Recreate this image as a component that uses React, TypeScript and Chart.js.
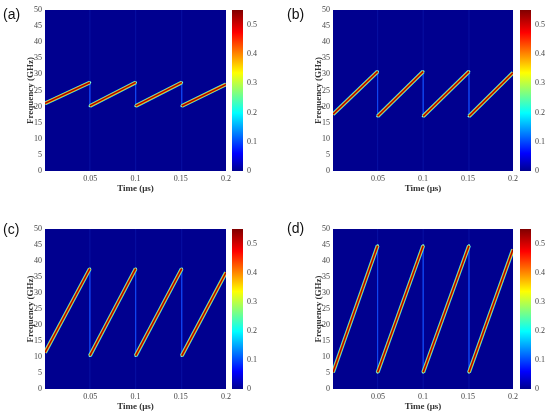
import React, { useEffect, useRef } from 'react';
import { Chart, registerables } from 'chart.js';

Chart.register(...registerables);

// chirp segments (time in μs), shared by all four panels
const segmentStartTimes = [0, 0.0496, 0.1002, 0.1511];
const segmentEndTimes = [0.0496, 0.1002, 0.1511, 0.2];

// start / end frequency of each segment (GHz), read per panel
const startFreqA = [21.0, 20.2, 20.2, 20.2];
const endFreqA = [27.5, 27.5, 27.5, 26.9];
const startFreqB = [17.6, 17.0, 17.0, 17.0];
const endFreqB = [30.9, 30.9, 30.9, 30.5];
const startFreqC = [11.4, 10.4, 10.4, 10.4];
const endFreqC = [37.6, 37.6, 37.6, 36.4];
const startFreqD = [5.2, 5.2, 5.2, 5.2];
const endFreqD = [44.8, 44.8, 44.8, 43.6];

const panelLabels = ['(a)', '(b)', '(c)', '(d)'];
const timeTicks = [0.05, 0.1, 0.15, 0.2];
const freqTicks = [0, 5, 10, 15, 20, 25, 30, 35, 40, 45, 50];
const colorbarTicks = [0, 0.1, 0.2, 0.3, 0.4, 0.5];
const colorbarMax = 0.55;

// jet colormap stops
const jetStops: [number, string][] = [
  [0, '#00008F'],
  [0.11, '#0000FF'],
  [0.36, '#00FFFF'],
  [0.61, '#FFFF00'],
  [0.86, '#FF0000'],
  [1, '#800000'],
];

const tickFont = { family: 'Liberation Serif', size: 8 };
const titleFont = { family: 'Liberation Serif', size: 9, weight: 'bold' as const };

const backgroundPlugin = {
  id: 'plotBackground',
  beforeDatasetsDraw(chart: Chart) {
    const { ctx, chartArea } = chart;
    ctx.save();
    ctx.fillStyle = '#00008F';
    ctx.fillRect(chartArea.left, chartArea.top, chartArea.right - chartArea.left, chartArea.bottom - chartArea.top);
    ctx.restore();
  },
};

function buildDatasets(startFreq: number[], endFreq: number[]) {
  const datasets: any[] = [];
  const layers = [
    { color: '#2FD8FF', width: 4, order: 3 },
    { color: '#FFC400', width: 2.8, order: 2 },
    { color: '#A80000', width: 1.5, order: 1 },
  ];
  segmentStartTimes.forEach((t0, i) => {
    layers.forEach((layer) => {
      datasets.push({
        data: [
          { x: t0, y: startFreq[i] },
          { x: segmentEndTimes[i], y: endFreq[i] },
        ],
        borderColor: layer.color,
        borderWidth: layer.width,
        pointRadius: 0,
        order: layer.order,
      });
    });
  });
  // faint streaks and flyback at each jump
  segmentStartTimes.slice(1).forEach((tj, i) => {
    datasets.push({
      data: [
        { x: tj, y: freqTicks[0] },
        { x: tj, y: freqTicks[freqTicks.length - 1] },
      ],
      borderColor: 'rgba(40,90,255,0.18)',
      borderWidth: 1,
      pointRadius: 0,
      order: 5,
    });
    datasets.push({
      data: [
        { x: tj, y: endFreq[i] },
        { x: tj, y: startFreq[i + 1] },
      ],
      borderColor: 'rgba(20,80,255,0.55)',
      borderWidth: 1,
      pointRadius: 1.3,
      pointBackgroundColor: '#7FFFE0',
      pointBorderWidth: 0,
      order: 4,
    });
  });
  return datasets;
}

const Spectrogram: React.FC<{ startFreq: number[]; endFreq: number[]; left: number; top: number; height: number; rightPad: number }> = ({ startFreq, endFreq, left, top, height, rightPad }) => {
  const chartRef = useRef<HTMLCanvasElement>(null);
  const chartInstance = useRef<Chart | null>(null);

  useEffect(() => {
    if (!chartRef.current) return;
    if (chartInstance.current) chartInstance.current.destroy();
    chartInstance.current = new Chart(chartRef.current, {
      type: 'line',
      data: { datasets: buildDatasets(startFreq, endFreq) },
      options: {
        animation: false,
        responsive: true,
        maintainAspectRatio: false,
        layout: { padding: { left: 0, right: rightPad, top: 10, bottom: 0 } },
        plugins: { legend: { display: false }, tooltip: { enabled: false } },
        scales: {
          x: {
            type: 'linear',
            min: 0,
            max: 0.2,
            grid: { display: false, drawTicks: false },
            border: { display: false },
            ticks: {
              font: tickFont,
              color: '#444',
              padding: 3,
              maxRotation: 0,
              autoSkip: false,
              callback: (v: any) => String(v),
            },
            title: { display: true, text: 'Time (μs)', font: titleFont, color: '#333', padding: { top: 0, bottom: 6 } },
            afterBuildTicks: (scale: any) => {
              scale.ticks = timeTicks.map((v) => ({ value: v }));
            },
            afterFit: (scale: any) => {
              scale.height = 29;
              scale.paddingLeft = 0;
              scale.paddingRight = 0;
            },
          },
          y: {
            type: 'linear',
            min: 0,
            max: 50,
            grid: { display: false, drawTicks: false },
            border: { display: false },
            ticks: { font: tickFont, color: '#444', padding: 3 },
            title: { display: true, text: 'Frequency (GHz)', font: titleFont, color: '#333', padding: { top: 25, bottom: 0 } },
            afterBuildTicks: (scale: any) => {
              scale.ticks = freqTicks.map((v) => ({ value: v }));
            },
            afterFit: (scale: any) => {
              scale.width = 45;
              scale.paddingTop = 0;
              scale.paddingBottom = 0;
            },
          },
        },
      },
      plugins: [backgroundPlugin],
    });
    return () => {
      if (chartInstance.current) chartInstance.current.destroy();
    };
  }, []);

  return (
    <div style={{ position: 'absolute', left, top, width: 240, height }}>
      <canvas ref={chartRef} />
    </div>
  );
};

const Colorbar: React.FC<{ left: number; top: number; height: number }> = ({ left, top, height }) => {
  const chartRef = useRef<HTMLCanvasElement>(null);
  const chartInstance = useRef<Chart | null>(null);

  useEffect(() => {
    if (!chartRef.current) return;
    if (chartInstance.current) chartInstance.current.destroy();
    chartInstance.current = new Chart(chartRef.current, {
      type: 'bar',
      data: {
        labels: [''],
        datasets: [
          {
            data: [[0, colorbarMax]] as any,
            borderWidth: 0,
            barPercentage: 1,
            categoryPercentage: 1,
            backgroundColor: (context: any) => {
              const area = context.chart.chartArea;
              if (!area) return '#00008F';
              const g = context.chart.ctx.createLinearGradient(0, area.bottom, 0, area.top);
              jetStops.forEach(([p, c]) => g.addColorStop(p, c));
              return g;
            },
          },
        ],
      },
      options: {
        animation: false,
        responsive: true,
        maintainAspectRatio: false,
        layout: { padding: { left: 4, right: 0, top: 10, bottom: 29 } },
        plugins: { legend: { display: false }, tooltip: { enabled: false } },
        scales: {
          x: { display: false },
          y: {
            position: 'right',
            min: 0,
            max: colorbarMax,
            grid: { display: false, drawTicks: false },
            border: { display: false },
            ticks: { font: tickFont, color: '#444', padding: 4 },
            afterBuildTicks: (scale: any) => {
              scale.ticks = colorbarTicks.map((v) => ({ value: v }));
            },
            afterFit: (scale: any) => {
              scale.width = 19;
              scale.paddingTop = 0;
              scale.paddingBottom = 0;
            },
          },
        },
      },
    });
    return () => {
      if (chartInstance.current) chartInstance.current.destroy();
    };
  }, []);

  return (
    <div style={{ position: 'absolute', left, top, width: 34, height }}>
      <canvas ref={chartRef} />
    </div>
  );
};

const labelStyle: React.CSSProperties = {
  position: 'absolute',
  fontFamily: 'Liberation Sans, Arial, sans-serif',
  fontSize: 14,
  color: '#111',
  lineHeight: '14px',
};

const App: React.FC = () => {
  return (
    <div style={{ position: 'absolute', left: 0, top: 0, width: 550, height: 413, overflow: 'hidden', background: '#fff' }}>
      <Spectrogram startFreq={startFreqA} endFreq={endFreqA} left={0} top={0} height={200} rightPad={14} />
      <Colorbar left={228} top={0} height={200} />
      <Spectrogram startFreq={startFreqB} endFreq={endFreqB} left={288} top={0} height={200} rightPad={15} />
      <Colorbar left={516} top={0} height={200} />
      <Spectrogram startFreq={startFreqC} endFreq={endFreqC} left={0} top={219} height={199} rightPad={14} />
      <Colorbar left={228} top={219} height={199} />
      <Spectrogram startFreq={startFreqD} endFreq={endFreqD} left={288} top={219} height={199} rightPad={15} />
      <Colorbar left={516} top={219} height={199} />
      <div style={{ ...labelStyle, left: 3, top: 7 }}>{panelLabels[0]}</div>
      <div style={{ ...labelStyle, left: 287, top: 7 }}>{panelLabels[1]}</div>
      <div style={{ ...labelStyle, left: 3, top: 222 }}>{panelLabels[2]}</div>
      <div style={{ ...labelStyle, left: 287, top: 221 }}>{panelLabels[3]}</div>
    </div>
  );
};

export default App;
